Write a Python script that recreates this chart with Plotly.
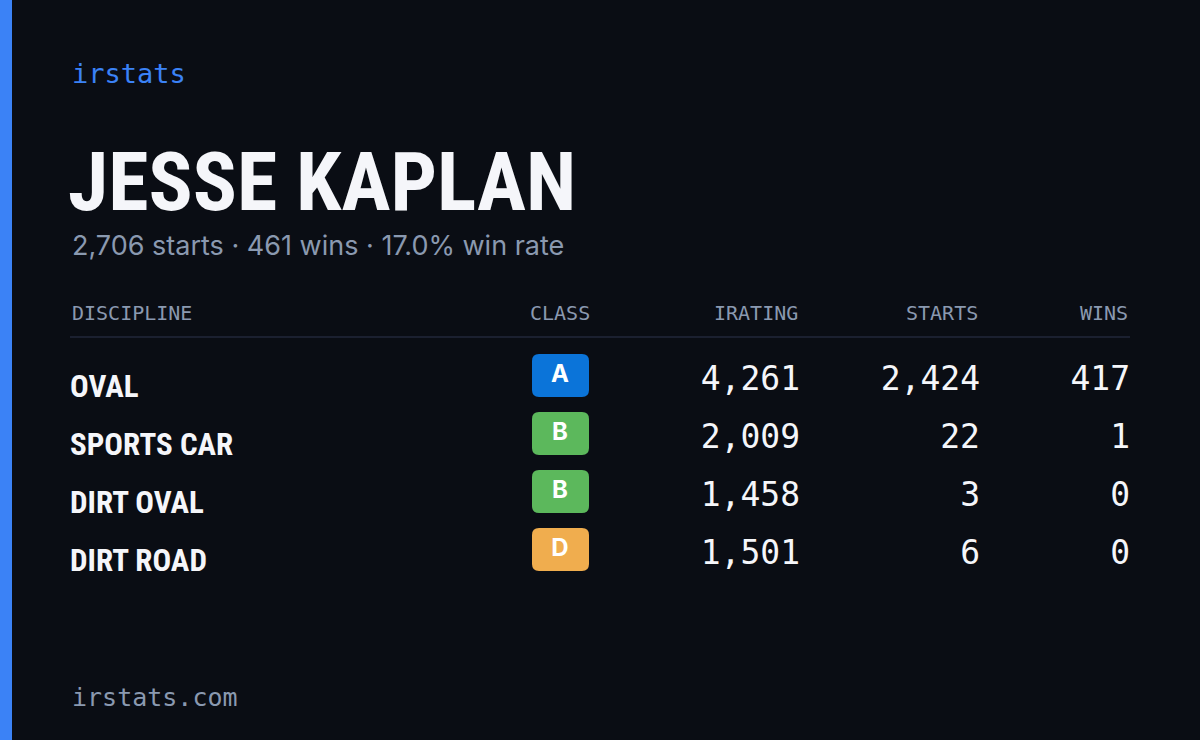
import plotly.graph_objects as go

disciplines = ["OVAL", "SPORTS CAR", "DIRT OVAL", "DIRT ROAD"]
classes = ["A", "B", "B", "D"]
iratings = [4261, 2009, 1458, 1501]
starts = [2424, 22, 3, 6]
wins = [417, 1, 0, 0]
headers = ["DISCIPLINE", "CLASS", "IRATING", "STARTS", "WINS"]
total_starts, total_wins = 2706, 461

class_colors = {"A": "#0b74d9", "B": "#5cb85c", "C": "#f0c030", "D": "#f0ad4e"}
BG = "#0a0d14"
GRAY = "#8a99b0"
WHITE = "#f5f6fa"
COND = "Liberation Sans Narrow, Roboto Condensed, sans-serif"
MONO = "DejaVu Sans Mono, monospace"

row_y = [380 + 58 * i for i in range(len(disciplines))]

fig = go.Figure()
shapes = [
    dict(type="rect", x0=0, x1=12, y0=0, y1=740, fillcolor="#3b82f6", line_width=0, layer="below"),
    dict(type="line", x0=70, x1=1130, y0=337, y1=337, line=dict(color="#1b2030", width=2)),
]
for c, y in zip(classes, row_y):
    x0, x1, y0, y1, r = 532, 589, y - 26, y + 17, 7
    path = (f"M{x0+r},{y0} L{x1-r},{y0} Q{x1},{y0} {x1},{y0+r} L{x1},{y1-r} Q{x1},{y1} {x1-r},{y1} "
            f"L{x0+r},{y1} Q{x0},{y1} {x0},{y1-r} L{x0},{y0+r} Q{x0},{y0} {x0+r},{y0} Z")
    shapes.append(dict(type="path", path=path, fillcolor=class_colors[c], line_width=0, layer="below"))

fig.add_trace(go.Scatter(x=[70]*4, y=[y + 9 for y in row_y], text=disciplines, mode="text",
                         textposition="middle right",
                         textfont=dict(family=COND, size=31, color=WHITE, weight="bold")))
fig.add_trace(go.Scatter(x=[560]*4, y=[y - 4 for y in row_y], text=classes, mode="text",
                         textposition="middle center",
                         textfont=dict(family="Inter, sans-serif", size=24, color="white", weight="bold")))
for xs, vals in [(800, iratings), (980, starts), (1130, wins)]:
    fig.add_trace(go.Scatter(x=[xs]*4, y=[y + 2 for y in row_y], text=[f"{v:,}" for v in vals],
                             mode="text", textposition="middle left",
                             textfont=dict(family=MONO, size=33, color=WHITE)))

ann = [
    dict(x=70, y=73, text="irstats", xanchor="left", font=dict(family=MONO, size=27, color="#3b82f6")),
    dict(x=66, y=182, text="JESSE KAPLAN", xanchor="left",
         font=dict(family=COND, size=82, color=WHITE, weight="bold")),
    dict(x=70, y=245, xanchor="left",
         text=f"{total_starts:,} starts · {total_wins} wins · {total_wins/total_starts*100:.1f}% win rate",
         font=dict(family="Inter, sans-serif", size=27, color=GRAY)),
    dict(x=70, y=697, text="irstats.com", xanchor="left", font=dict(family=MONO, size=25, color=GRAY)),
]
hx = [(70, "left"), (560, "center"), (800, "right"), (980, "right"), (1130, "right")]
for (x, a), h in zip(hx, headers):
    ann.append(dict(x=x, y=313, text=h, xanchor=a, font=dict(family=MONO, size=20, color=GRAY)))
for a in ann:
    a.update(xref="x", yref="y", showarrow=False, yanchor="middle")

fig.update_layout(
    width=1200, height=740, margin=dict(l=0, r=0, t=0, b=0),
    paper_bgcolor=BG, plot_bgcolor=BG, showlegend=False,
    shapes=shapes, annotations=ann,
    xaxis=dict(range=[0, 1200], visible=False, fixedrange=True),
    yaxis=dict(range=[740, 0], visible=False, fixedrange=True),
)
fig.write_html("out.html", config={"displayModeBar": False},
               post_script="document.body.style.margin='0';document.body.style.background='#0a0d14';")
